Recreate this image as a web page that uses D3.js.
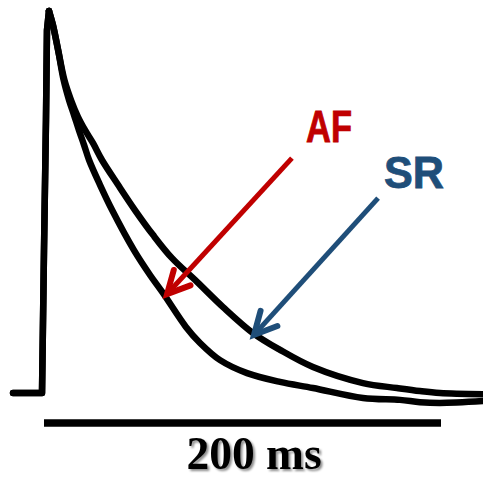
<!DOCTYPE html>
<html>
<head>
<meta charset="utf-8">
<script src="https://cdn.jsdelivr.net/npm/d3@7"></script>
<style>
  html, body { margin: 0; padding: 0; background: #fff; }
  svg { display: block; }
</style>
</head>
<body>
<svg id="chart" width="483" height="479"></svg>
<script>
// ---- Data (time in ms, normalized fluorescence) ----
const afTime  = [-15.6, -1.0, 0.0, 1.0, 1.5, 2.5, 4.5, 7.1, 9.9, 12.6, 15.1, 17.6, 20.2, 22.7, 28.2, 34.3, 45.3, 53.4, 59.9, 71.5, 78.6, 88.7, 102.3, 118.9, 135.5, 160.7, 179.3, 189.4, 199.5, 221.2];
const afValue = [0, 0, 0.374, 0.715, 0.950, 1.0, 0.963, 0.898, 0.819, 0.767, 0.728, 0.688, 0.649, 0.610, 0.545, 0.479, 0.374, 0.309, 0.262, 0.173, 0.131, 0.086, 0.052, 0.029, 0.013, -0.013, -0.018, -0.024, -0.026, -0.021];

const srTime  = [-15.6, -1.0, 0.0, 1.0, 1.5, 2.5, 4.5, 7.1, 10.3, 13.6, 17.1, 20.7, 24.7, 29.2, 37.3, 45.8, 54.9, 64.5, 77.1, 90.2, 105.3, 118.9, 135.5, 160.7, 177.8, 189.4, 199.5, 221.2];
const srValue = [0, 0, 0.374, 0.715, 0.950, 1.0, 0.963, 0.898, 0.819, 0.767, 0.723, 0.688, 0.654, 0.610, 0.545, 0.479, 0.414, 0.353, 0.291, 0.225, 0.157, 0.113, 0.068, 0.026, 0.013, 0.005, 0, -0.003];

const seriesNames  = ["AF", "SR"];
const seriesColors = ["#C00000", "#1F4E79"];
// annotation anchors in data units: [tipTime, tipValue, tailTime, tailValue, labelTime, labelValue]
const afAnnotation = [62.0, 0.259, 124.9, 0.615, 132.0, 0.657];
const srAnnotation = [105.8, 0.152, 168.3, 0.510, 171.3, 0.537];
// scale bar
const scaleBarTimes = [0, 200];
const scaleBarLabel = "200 ms";
const scaleBarValue = -0.0785;
const scaleLabelValue = -0.199;

// ---- Scales ----
const x = d3.scaleLinear().domain([0, 200]).range([44, 441]);
const y = d3.scaleLinear().domain([0, 1]).range([393, 11]);

const svg = d3.select("#chart");

const defs = svg.append("defs");
const f = defs.append("filter").attr("id", "shadow").attr("x", "-10%").attr("y", "-20%").attr("width", "130%").attr("height", "150%");
f.append("feDropShadow").attr("dx", 2).attr("dy", 2).attr("stdDeviation", 1.2).attr("flood-color", "#000").attr("flood-opacity", 0.45);

const rise  = d3.line().x(d => x(d[0])).y(d => y(d[1])).curve(d3.curveLinear);
const decay = d3.line().x(d => x(d[0])).y(d => y(d[1])).curve(d3.curveCatmullRom.alpha(0.5));

const traces = [
  afTime.map((t, i) => [t, afValue[i]]),
  srTime.map((t, i) => [t, srValue[i]])
];

const g0 = svg.append("g")
  .attr("fill", "none")
  .attr("stroke", "#000")
  .attr("stroke-width", 6.5)
  .attr("stroke-linejoin", "round")
  .attr("stroke-linecap", "round");

traces.forEach(tr => {
  const peakIdx = d3.maxIndex(tr, d => d[1]);
  g0.append("path").attr("d", rise(tr.slice(0, peakIdx + 1)));
  g0.append("path").attr("d", decay(tr.slice(peakIdx)));
});

// ---- Scale bar ----
svg.append("line")
  .attr("x1", x(scaleBarTimes[0])).attr("x2", x(scaleBarTimes[1]))
  .attr("y1", y(scaleBarValue)).attr("y2", y(scaleBarValue))
  .attr("stroke", "#000").attr("stroke-width", 7.5);

svg.append("text")
  .attr("x", x((scaleBarTimes[0] + scaleBarTimes[1]) / 2 + 5.8))
  .attr("y", y(scaleLabelValue))
  .attr("text-anchor", "middle")
  .attr("font-family", "'Liberation Serif', 'Times New Roman', serif")
  .attr("font-weight", "bold")
  .attr("font-size", 45.5)
  .attr("filter", "url(#shadow)")
  .text(scaleBarLabel);

// ---- Annotations ----
const annotations = [afAnnotation, srAnnotation];
annotations.forEach((a, i) => {
  const col = seriesColors[i];
  const tx = x(a[0]), ty = y(a[1]);
  const sx = x(a[2]), sy = y(a[3]);
  const g = svg.append("g");
  g.append("line")
    .attr("x1", sx).attr("y1", sy).attr("x2", tx).attr("y2", ty)
    .attr("stroke", col).attr("stroke-width", 5);
  const ang = Math.atan2(sy - ty, sx - tx);
  const len = 25, spread = 27 * Math.PI / 180;
  const p1 = [tx + len * Math.cos(ang - spread), ty + len * Math.sin(ang - spread)];
  const p2 = [tx + len * Math.cos(ang + spread), ty + len * Math.sin(ang + spread)];
  g.append("path")
    .attr("d", d3.line()([p1, [tx, ty], p2]))
    .attr("fill", "none").attr("stroke", col).attr("stroke-width", 6)
    .attr("stroke-linejoin", "miter").attr("stroke-linecap", "round");
  g.append("text")
    .attr("x", x(a[4])).attr("y", y(a[5]))
    .attr("fill", col)
    .attr("stroke", col)
    .attr("stroke-width", 0.8)
    .attr("font-family", "'Liberation Sans', Arial, sans-serif")
    .attr("font-weight", "bold")
    .attr("font-size", 44)
    .attr("textLength", i === 0 ? 46 : 60)
    .attr("lengthAdjust", "spacingAndGlyphs")
    .text(seriesNames[i]);
});
</script>
</body>
</html>
